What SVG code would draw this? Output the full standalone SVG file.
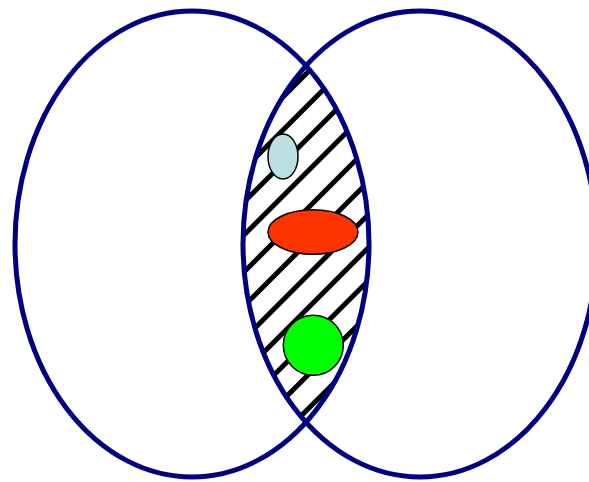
<svg xmlns="http://www.w3.org/2000/svg" width="589" height="482" viewBox="0 0 589 482">
<style>
.set{fill:none;stroke:#000080;stroke-width:5}
.hatch{stroke:#000;stroke-width:5;fill:none}
.item{stroke:#000;stroke-width:1.5}
</style>
<defs>
<clipPath id="cL"><ellipse cx="192" cy="244" rx="177" ry="233"/></clipPath>
<clipPath id="cR"><ellipse cx="420" cy="244" rx="177" ry="233"/></clipPath>
</defs>
<rect width="589" height="482" fill="#fff"/>
<g id="intersection-hatch" clip-path="url(#cL)">
<g clip-path="url(#cR)" class="hatch">
<line x1="230" y1="150" x2="380" y2="0"/>
<line x1="230" y1="183" x2="380" y2="33"/>
<line x1="230" y1="216" x2="380" y2="66"/>
<line x1="230" y1="249" x2="380" y2="99"/>
<line x1="230" y1="286" x2="380" y2="136"/>
<line x1="230" y1="320" x2="380" y2="170"/>
<line x1="230" y1="353" x2="380" y2="203"/>
<line x1="230" y1="386" x2="380" y2="236"/>
<line x1="230" y1="419" x2="380" y2="269"/>
<line x1="230" y1="453" x2="380" y2="303"/>
<line x1="230" y1="487" x2="380" y2="337"/>
</g>
</g>
<g id="set-left"><ellipse class="set" cx="192" cy="244" rx="177" ry="233"/></g>
<g id="set-right"><ellipse class="set" cx="420" cy="244" rx="177" ry="233"/></g>
<g id="item-blue"><ellipse class="item" cx="283" cy="156.5" rx="15" ry="22.5" fill="#BBDFE3"/></g>
<g id="item-red"><ellipse class="item" cx="313" cy="232" rx="45" ry="22.3" fill="#FF3300"/></g>
<g id="item-green"><circle class="item" cx="313.3" cy="345.3" r="30" fill="#00FF00"/></g>
<g id="connectors"/>
</svg>
